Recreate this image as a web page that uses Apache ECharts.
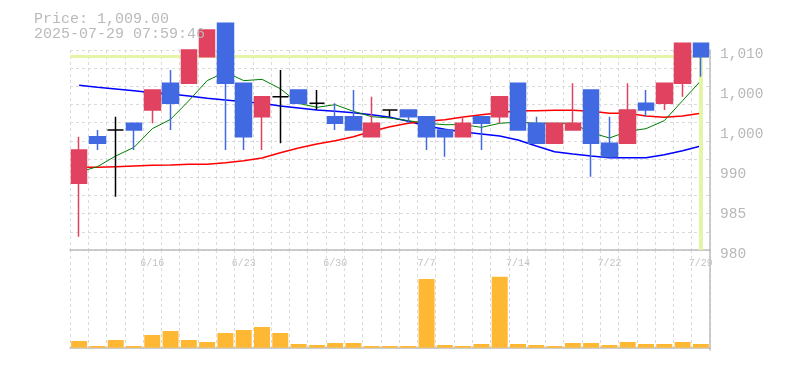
<!DOCTYPE html>
<html>
<head>
<meta charset="utf-8">
<script src="https://cdn.jsdelivr.net/npm/echarts@6/dist/echarts.min.js"></script>
<style>
  html, body { margin: 0; padding: 0; background: #fff; }
  #chart { width: 785px; height: 370px; }
</style>
</head>
<body>
<div id="chart"></div>
<script>
// ---- data ----
const PRICE_LABEL = 'Price: 1,009.00';
const TIMESTAMP = '2025-07-29 07:59:46';
const CURRENT_PRICE = 1009;

const DATES = ['6/10','6/11','6/12','6/13','6/16','6/17','6/18','6/19','6/20',
  '6/23','6/24','6/25','6/26','6/27','6/30','7/1','7/2','7/3','7/4',
  '7/7','7/8','7/9','7/10','7/11','7/14','7/15','7/16','7/17','7/18',
  '7/22','7/23','7/24','7/25','7/28','7/29'];
const DATE_TICKS = ['6/16','6/23','6/30','7/7','7/14','7/22','7/29'];

const OPEN  = [990, 997, 998, 999, 1001, 1005, 1005, 1009, 1014, 1005, 1000, 1003, 1004, 1002, 1000, 1000, 997, 1001, 1001, 1000, 998, 997, 1000, 1000, 1005, 999, 996, 998, 1004, 996, 996, 1002, 1002, 1005, 1011];
const CLOSE = [995, 996, 998, 998, 1004, 1002, 1010, 1013, 1005, 997, 1003, 1003, 1002, 1002, 999, 998, 999, 1001, 1000, 997, 997, 999, 999, 1003, 998, 996, 999, 999, 996, 994, 1001, 1001, 1005, 1011, 1009];
const LOW   = [982, 995, 988, 995, 999, 998, 1005, 1009, 995, 995, 995, 996, 1002, 1001, 998, 998, 997, 1000, 999, 995, 994, 997, 995, 999, 998, 996, 996, 998, 991, 994, 996, 1000, 1001, 1003, 1006];
const HIGH  = [997, 998, 1000, 999, 1004, 1007, 1010, 1013, 1014, 1005, 1003, 1007, 1004, 1004, 1002, 1004, 1003, 1001, 1001, 1000, 998, 1000, 1000, 1003, 1005, 1000, 999, 1005, 1004, 1000, 1005, 1004, 1005, 1011, 1011];

const MA_SHORT = [991.7, 992.5, 994.1, 995.4, 998.2, 999.6, 1002.4, 1005.4, 1006.7, 1005.4, 1005.6, 1004.2, 1002.0, 1001.4, 1001.8, 1000.8, 1000.0, 999.8, 999.4, 999.0, 998.8, 998.8, 998.4, 999.0, 999.2, 999.0, 999.0, 999.0, 997.6, 996.8, 997.8, 998.2, 999.4, 1002.4, 1005.4];
const MA_MID   = [992.4, 992.4, 992.5, 992.6, 992.7, 992.75, 992.85, 992.85, 993.1, 993.4, 993.8, 994.6, 995.3, 995.9, 996.4, 997.0, 997.8, 998.5, 999.0, 999.3, 999.55, 999.95, 1000.3, 1000.6, 1000.9, 1000.9, 1000.95, 1000.95, 1000.8, 1000.5, 1000.5, 1000.1, 999.9, 1000.1, 1000.5];
const MA_LONG  = [1004.7, 1004.4, 1004.15, 1003.9, 1003.6, 1003.4, 1003.1, 1002.75, 1002.5, 1002.25, 1002.0, 1001.6, 1001.3, 1001.0, 1000.8, 1000.6, 1000.3, 999.9, 999.3, 998.6, 998.1, 997.7, 997.4, 997.1, 996.5, 995.6, 994.75, 994.4, 994.1, 993.85, 993.85, 993.85, 994.3, 994.9, 995.6];

const VOLUME = [67, 17, 77, 17, 127, 167, 77, 57, 147, 177, 207, 147, 37, 27, 47, 47, 17, 17, 17, 687, 27, 17, 37, 710, 37, 27, 17, 47, 47, 27, 57, 37, 37, 57, 37];

const PRICE_MIN = 980, PRICE_MAX = 1010, PRICE_STEP = 6;
const PRICE_TICK_LABELS = ['980', '985', '990', '1,000', '1,000', '1,010'];

// ---- styles ----
const UP = '#e0425f', DOWN = '#4169e1';
const GRID_LINE = { type: [3, 3], color: '#dadada', width: 1 };
const AXIS_LINE = { color: '#bdbdbd', width: 1.5 };
const MONO = 'Liberation Mono';

const candleData = OPEN.map((o, i) => [o, CLOSE[i], LOW[i], HIGH[i]]);

const chart = echarts.init(document.getElementById('chart'), null, { renderer: 'canvas' });
chart.setOption({
  animation: false,
  backgroundColor: '#fff',
  title: {
    text: PRICE_LABEL + '\n' + TIMESTAMP,
    left: 29, top: 7,
    textStyle: { fontFamily: MONO, fontSize: 15, fontWeight: 'normal', color: '#bababa', lineHeight: 15 }
  },
  grid: [
    { left: 70, right: 75, top: 50, height: 200 },
    { left: 70, right: 75, top: 250, height: 100 }
  ],
  xAxis: [
    {
      type: 'category', gridIndex: 0, data: DATES, boundaryGap: true,
      axisLine: { show: true, lineStyle: AXIS_LINE },
      axisTick: { show: false },
      axisLabel: {
        interval: (idx, val) => DATE_TICKS.includes(val),
        color: '#c4c4c4', fontFamily: MONO, fontSize: 10, margin: 8
      },
      splitLine: { show: true, interval: 0, lineStyle: GRID_LINE }
    },
    {
      type: 'category', gridIndex: 1, data: DATES, boundaryGap: true,
      axisLine: { show: true, lineStyle: AXIS_LINE },
      axisTick: { show: false },
      axisLabel: { show: false },
      splitLine: { show: true, interval: 0, lineStyle: GRID_LINE }
    }
  ],
  yAxis: [
    {
      type: 'value', gridIndex: 0, position: 'right',
      min: PRICE_MIN, max: PRICE_MAX, interval: PRICE_STEP,
      axisLine: { show: true, lineStyle: AXIS_LINE },
      axisTick: { show: false },
      splitLine: { show: false },
      axisLabel: {
        formatter: v => '{p|' + PRICE_TICK_LABELS[Math.round((v - PRICE_MIN) / PRICE_STEP)] + '}',
        margin: 10,
        rich: {
          p: { color: '#b8b8b8', fontFamily: MONO, fontSize: 14.5, padding: [8, 0, 0, 0] }
        }
      }
    },
    {
      type: 'value', gridIndex: 0, position: 'left', min: 0, max: 11, interval: 1,
      axisLine: { show: false }, axisTick: { show: false }, axisLabel: { show: false },
      splitLine: { show: true, lineStyle: GRID_LINE }
    },
    {
      type: 'value', gridIndex: 1, position: 'right', min: -23, max: 977,
      axisLine: { show: true, lineStyle: AXIS_LINE },
      axisTick: { show: false }, axisLabel: { show: false },
      splitLine: { show: false }
    }
  ],
  series: [
    {
      name: 'ref', type: 'line', xAxisIndex: 0, yAxisIndex: 0, data: [], z: 1,
      markLine: {
        silent: true, symbol: 'none', animation: false,
        label: { show: false },
        data: [
          { yAxis: CURRENT_PRICE, lineStyle: { color: '#e4f5a8', width: 3, type: 'solid' } },
          { xAxis: DATES[DATES.length - 1], lineStyle: { color: '#e4f5a8', width: 4, type: 'solid' } }
        ]
      }
    },
    {
      name: 'MA75', type: 'line', xAxisIndex: 0, yAxisIndex: 0, data: MA_LONG,
      showSymbol: false, z: 3, lineStyle: { color: '#0000ff', width: 1.5 }
    },
    {
      name: 'MA25', type: 'line', xAxisIndex: 0, yAxisIndex: 0, data: MA_MID,
      showSymbol: false, z: 3, lineStyle: { color: '#ff0000', width: 1.5 }
    },
    {
      name: 'MA5', type: 'line', xAxisIndex: 0, yAxisIndex: 0, data: MA_SHORT,
      showSymbol: false, z: 3, lineStyle: { color: '#008000', width: 1 }
    },
    {
      name: 'price', type: 'candlestick', xAxisIndex: 0, yAxisIndex: 0, data: candleData,
      barWidth: 16, z: 5,
      itemStyle: {
        color: UP, color0: DOWN, borderColor: UP, borderColor0: DOWN,
        borderColorDoji: '#000000', borderWidth: 1.5
      }
    },
    {
      name: 'volume', type: 'bar', xAxisIndex: 1, yAxisIndex: 2, data: VOLUME,
      barWidth: 16, itemStyle: { color: '#ffb833' }, z: 3
    }
  ]
});
</script>
</body>
</html>
